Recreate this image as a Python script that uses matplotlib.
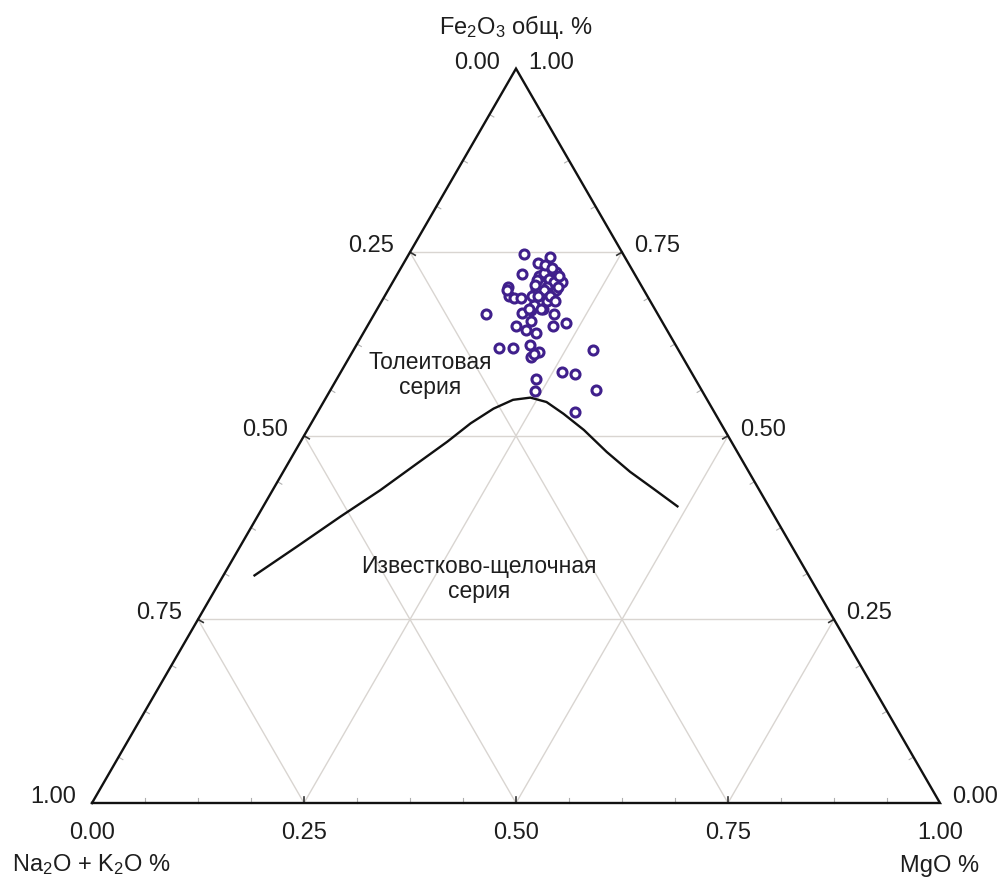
import numpy as np
import matplotlib.pyplot as plt

plt.rcParams['font.family'] = ['Liberation Sans', 'DejaVu Sans']
plt.rcParams['mathtext.fontset'] = 'custom'
plt.rcParams['mathtext.rm'] = 'Liberation Sans'
plt.rcParams['mathtext.it'] = 'Liberation Sans:italic'

# Составы пород (доли): MgO и Fe2O3 общ., Na2O+K2O - остаток до 1
mgo = [0.136, 0.168, 0.159, 0.147, 0.186, 0.200, 0.139, 0.146, 0.154, 0.162,
       0.140, 0.132, 0.174, 0.182, 0.195, 0.212, 0.175, 0.189, 0.190, 0.204,
       0.219, 0.232, 0.170, 0.186, 0.205, 0.220, 0.214, 0.216, 0.282, 0.261,
       0.278, 0.235, 0.242, 0.313, 0.303, 0.168, 0.172, 0.182, 0.190, 0.176,
       0.186, 0.175, 0.195, 0.188, 0.185, 0.182, 0.195, 0.179, 0.193, 0.198,
       0.169, 0.192, 0.174, 0.168, 0.178, 0.170, 0.199, 0.184, 0.195, 0.181,
       0.204]
fe2o3 = [0.748, 0.744, 0.735, 0.721, 0.723, 0.709, 0.702, 0.691, 0.687, 0.687,
         0.698, 0.666, 0.667, 0.671, 0.673, 0.666, 0.650, 0.657, 0.644, 0.640,
         0.650, 0.653, 0.620, 0.620, 0.623, 0.614, 0.607, 0.611, 0.617, 0.587,
         0.584, 0.578, 0.561, 0.563, 0.533, 0.718, 0.722, 0.714, 0.709, 0.707,
         0.702, 0.698, 0.695, 0.691, 0.684, 0.678, 0.684, 0.673, 0.673, 0.698,
         0.712, 0.717, 0.690, 0.732, 0.728, 0.705, 0.702, 0.698, 0.690, 0.690,
         0.684]

# Граница толеитовой и известково-щелочной серий
line_mgo = [0.036, 0.067, 0.098, 0.127, 0.152, 0.173, 0.188, 0.205, 0.222,
            0.241, 0.263, 0.291, 0.326, 0.368, 0.409, 0.448, 0.490]
line_fe = [0.309, 0.349, 0.390, 0.426, 0.462, 0.492, 0.517, 0.537, 0.549,
           0.552, 0.546, 0.530, 0.508, 0.478, 0.451, 0.428, 0.403]

ticks = [0.0, 0.25, 0.5, 0.75, 1.0]

H = np.sqrt(3) / 2


def to_xy(m, f):
    m = np.asarray(m, dtype=float)
    f = np.asarray(f, dtype=float)
    return m + f / 2, f * H


W, Hpx = 1003, 881
x0, y0, side = 92, 803, 848  # вершина Na2O+K2O и длина стороны, пиксели

fig = plt.figure(figsize=(W / 100, Hpx / 100), dpi=100)
ax = fig.add_axes([0, 0, 1, 1])
ax.set_xlim(-x0 / side, (W - x0) / side)
ax.set_ylim(-(Hpx - y0) / side, y0 / side)
ax.axis('off')

grid_c = '#d9d5d1'
text_c = '#1e1e1e'

# сетка через 0.25
for v in ticks[1:-1]:
    for a, b in [((0, v), (1 - v, v)),
                 ((v, 0), (v, 1 - v)),
                 ((1 - v, 0), (0, 1 - v))]:
        xs, ys = to_xy([a[0], b[0]], [a[1], b[1]])
        ax.plot(xs, ys, color=grid_c, lw=1.0, zorder=1)

# мелкие засечки через 1/16
tl = 5 / side
edges = [((0, 0), (1, 0), (0, 1)),
         ((0, 0), (0, 1), (np.cos(np.radians(-30)), np.sin(np.radians(-30)))),
         ((1, 0), (0, 1), (-np.cos(np.radians(-30)), np.sin(np.radians(-30))))]
for (m0, f0), (m1, f1), (nx, ny) in edges:
    for k in range(1, 16):
        t = k / 16
        px, py = to_xy(m0 + (m1 - m0) * t, f0 + (f1 - f0) * t)
        major = k % 4 == 0
        ax.plot([px, px + nx * tl * (1.2 if major else 1)],
                [py, py + ny * tl * (1.2 if major else 1)],
                color='#333333' if major else '#b0b0b0',
                lw=1.2 if major else 0.8, zorder=2)

# контур треугольника
tx, ty = to_xy([0, 1, 0, 0], [0, 0, 1, 0])
ax.plot(tx, ty, color='#111111', lw=1.7, zorder=4, solid_joinstyle='miter')

# подписи шкал
fs = 17
for v in ticks:
    px, py = to_xy(0, 1 - v)
    ax.annotate(f'{v:.2f}', (px, py), xytext=(-16, 6), textcoords='offset pixels',
                ha='right', va='center', fontsize=fs, color=text_c)
    px, py = to_xy(1 - v, v)
    ax.annotate(f'{v:.2f}', (px, py), xytext=(12, 6), textcoords='offset pixels',
                ha='left', va='center', fontsize=fs, color=text_c)
    px, py = to_xy(v, 0)
    ax.annotate(f'{v:.2f}', (px, py), xytext=(0, -30), textcoords='offset pixels',
                ha='center', va='center', fontsize=fs, color=text_c)

# разделительная линия
lx, ly = to_xy(line_mgo, line_fe)
ax.plot(lx, ly, color='#111111', lw=1.7, zorder=3, solid_capstyle='butt',
        solid_joinstyle='round')

# точки составов
sx, sy = to_xy(mgo, fe2o3)
ax.plot(sx, sy, 'o', ms=6.5, mfc='white', mec='#40208c', mew=2.2, zorder=5)

# названия полей
fig.text(430 / W, 1 - 375 / Hpx, 'Толеитовая\nсерия', ha='center', va='center',
         fontsize=16.5, color=text_c, linespacing=1.15)
fig.text(479 / W, 1 - 579 / Hpx, 'Известково-щелочная\nсерия', ha='center',
         va='center', fontsize=16.5, color=text_c, linespacing=1.15)

# названия вершин
fig.text(516 / W, 1 - 27 / Hpx, 'Fe$_2$O$_3$ общ. %', ha='center', va='center',
         fontsize=fs, color=text_c)
fig.text(12 / W, 1 - 865 / Hpx, 'Na$_2$O + K$_2$O %', ha='left', va='center',
         fontsize=fs, color=text_c)
fig.text(940 / W, 1 - 866 / Hpx, 'MgO %', ha='center', va='center',
         fontsize=fs, color=text_c)

fig.savefig('out.png', dpi=100, facecolor='white')
